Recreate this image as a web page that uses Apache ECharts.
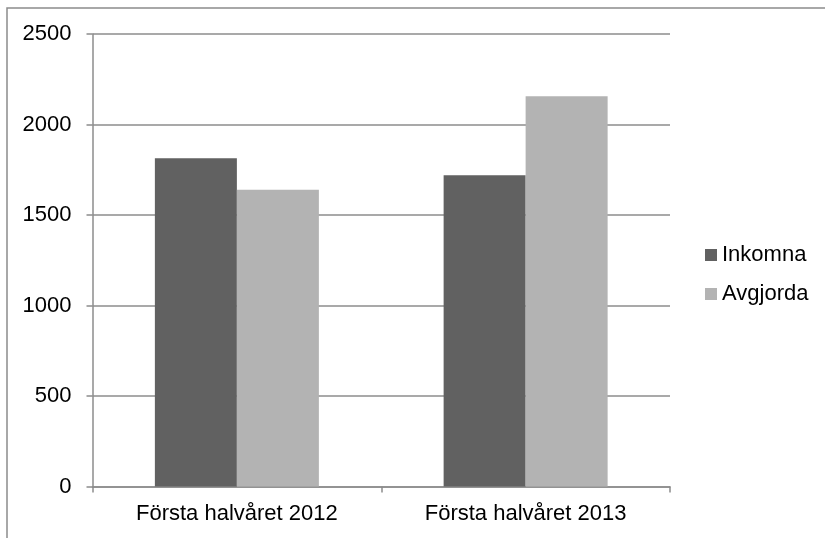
<!DOCTYPE html>
<html>
<head>
<meta charset="utf-8">
<script src="https://cdn.jsdelivr.net/npm/echarts@6/dist/echarts.min.js"></script>
<style>
  html, body { margin: 0; padding: 0; background: #fff; }
  #chart { width: 825px; height: 538px; }
</style>
</head>
<body>
<div id="chart"></div>
<script>
(function () {
  // data
  const categories = ['Första halvåret 2012', 'Första halvåret 2013'];
  const inkomna = [1813, 1719];
  const avgjorda = [1640, 2156];
  const yTicks = [0, 500, 1000, 1500, 2000, 2500];

  const chart = echarts.init(document.getElementById('chart'));
  const font = 'Liberation Sans, Arial, sans-serif';
  const lineGray = '#8c8c8c';

  chart.setOption({
    animation: false,
    textStyle: { fontFamily: font },
    // outer frame (only left/top edges fall inside the picture)
    graphic: [{
      type: 'rect',
      shape: { x: 7, y: 8, width: 1200, height: 1200 },
      style: { fill: 'none', stroke: lineGray, lineWidth: 1.5 },
      silent: true
    }],
    grid: { left: 92.5, right: 155, top: 34, bottom: 51.5, containLabel: false },
    legend: {
      orient: 'vertical',
      left: 705,
      top: 244,
      padding: [0, 0, 0, 0],
      itemWidth: 12,
      itemHeight: 12,
      itemGap: 17,
      icon: 'rect',
      textStyle: { fontSize: 22, color: '#000', fontFamily: font },
      data: ['Inkomna', 'Avgjorda']
    },
    xAxis: {
      type: 'category',
      data: categories,
      axisLine: { lineStyle: { color: lineGray, width: 1.5 } },
      axisTick: { show: true, length: 6, lineStyle: { color: lineGray, width: 1.5 } },
      axisLabel: { fontSize: 22, color: '#000', margin: 16, fontFamily: font }
    },
    yAxis: {
      type: 'value',
      min: yTicks[0],
      max: yTicks[yTicks.length - 1],
      interval: 500,
      axisLine: { show: true, lineStyle: { color: lineGray, width: 1.5 } },
      axisTick: { show: true, length: 6, lineStyle: { color: lineGray, width: 1.5 } },
      axisLabel: {
        fontSize: 22, color: '#000', margin: 21, fontFamily: font,
        formatter: v => String(v)
      },
      splitLine: { lineStyle: { color: lineGray, width: 1.5 } }
    },
    series: [
      {
        name: 'Inkomna',
        type: 'bar',
        data: inkomna,
        barWidth: 82,
        barGap: '0%',
        itemStyle: { color: '#616161' }
      },
      {
        name: 'Avgjorda',
        type: 'bar',
        data: avgjorda,
        barWidth: 82,
        itemStyle: { color: '#b3b3b3' }
      }
    ]
  });
})();
</script>
</body>
</html>
